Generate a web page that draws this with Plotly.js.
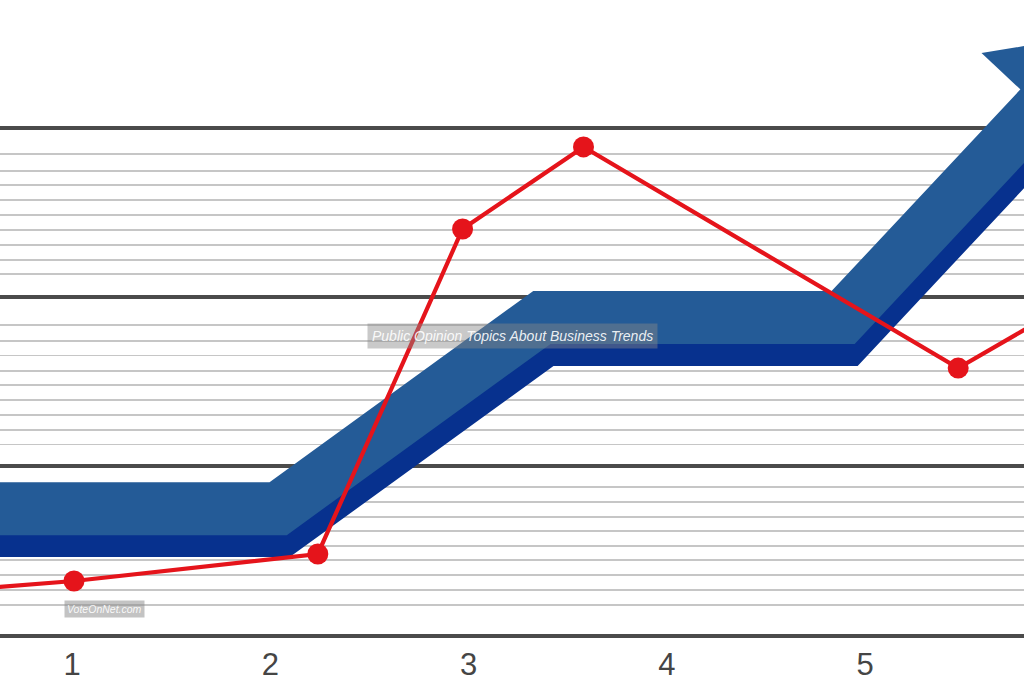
<!DOCTYPE html>
<html>
<head>
<meta charset="utf-8">
<script src="https://cdn.plot.ly/plotly-3.0.1.min.js"></script>
<style>
  html, body { margin: 0; padding: 0; background: #ffffff; }
  #chart { width: 1024px; height: 683px; }
</style>
</head>
<body>
<div id="chart"></div>
<script>
// ---- data ----
const xTickVals = [1, 2, 3, 4, 5];
const xTickText = ['1', '2', '3', '4', '5'];

// red line series (first and last points lie just outside the visible area)
const redX = [0.5, 1.01, 2.24, 2.97, 3.58, 5.47, 6.0];
const redY = [2.75, 3.22, 4.82, 24.03, 28.88, 15.81, 19.4];

// blue trend arrow (centre line; last point = arrow head)
const trendX = [0.0, 2.04, 3.37, 4.89, 6.0];
const trendY = [7.5, 7.5, 18.8, 18.8, 32.7];

// grid levels
const majorGrid = [0, 10, 20, 30];
const minorGrid = [
  1.80, 2.69, 3.58, 4.46, 5.29, 6.18, 7.00, 7.89, 8.78,
  11.30, 12.13, 13.02, 13.91, 14.79, 15.62, 16.56, 17.40, 18.34,
  21.36, 22.19, 23.07, 23.96, 24.85, 25.73, 26.62, 27.45, 28.45
];

// ---- styling ----
const LIGHT_BLUE = '#245b97';
const DARK_BLUE = '#07318e';
const RED = '#e5141b';
const BAND_W = 53;
const SHADOW_DX = 0.015, SHADOW_DY = -1.3;

const n = trendX.length;
const headSizes = trendX.map((v, i) => i === n - 1 ? 138 : 0);
const headAngles = trendX.map((v, i) => i === n - 1 ? 43.1 : 0);

const traces = [
  {
    x: trendX.map(v => v + SHADOW_DX),
    y: trendY.map(v => v + SHADOW_DY),
    mode: 'lines',
    line: { color: DARK_BLUE, width: BAND_W },
    hoverinfo: 'skip', showlegend: false
  },
  {
    x: trendX, y: trendY,
    mode: 'lines+markers',
    line: { color: LIGHT_BLUE, width: BAND_W },
    marker: { symbol: 'triangle-up', size: headSizes, angle: headAngles,
              color: LIGHT_BLUE, opacity: 1, line: { width: 0 } },
    hoverinfo: 'skip', showlegend: false
  },
  {
    x: redX, y: redY,
    mode: 'lines+markers',
    line: { color: RED, width: 4.2 },
    marker: { color: RED, size: 21, opacity: 1, line: { width: 0 } },
    showlegend: false
  }
];

const layout = {
  width: 1024, height: 683,
  margin: { l: 0, r: 0, t: 0, b: 40, pad: 0 },
  paper_bgcolor: '#ffffff', plot_bgcolor: '#ffffff',
  showlegend: false,
  xaxis: {
    range: [0.6368, 5.802],
    tickmode: 'array', tickvals: xTickVals, ticktext: xTickText,
    showgrid: false, zeroline: false, showline: false, ticks: '',
    ticklabelstandoff: 0,
    tickfont: { family: 'Liberation Sans, Arial, sans-serif', size: 31, color: '#454545' },
    fixedrange: true
  },
  yaxis: {
    range: [-0.443, 37.566],
    tickmode: 'array', tickvals: majorGrid,
    showticklabels: false, ticks: '', zeroline: false, showline: false,
    showgrid: true, gridcolor: '#4b4b4b', gridwidth: 4,
    minor: { tickmode: 'array', tickvals: minorGrid, showgrid: true,
             gridcolor: '#c6c6c6', gridwidth: 1.6, ticks: '' },
    fixedrange: true
  },
  annotations: [
    {
      xref: 'paper', yref: 'paper', x: 0.5, y: 0.4774,
      xanchor: 'center', yanchor: 'middle',
      text: 'Public Opinion Topics About Business Trends',
      showarrow: false, bgcolor: 'rgba(135,135,135,0.45)', borderpad: 4,
      font: { family: 'Liberation Sans, Arial, sans-serif', size: 14, style: 'italic',
              color: 'rgba(255,255,255,0.9)' }
    },
    {
      xref: 'paper', yref: 'paper', x: 0.1016, y: 0.0529,
      xanchor: 'center', yanchor: 'middle',
      text: 'VoteOnNet.com',
      showarrow: false, bgcolor: 'rgba(135,135,135,0.5)', borderpad: 2,
      font: { family: 'Liberation Sans, Arial, sans-serif', size: 10.5, style: 'italic',
              color: 'rgba(255,255,255,0.9)' }
    }
  ]
};

Plotly.newPlot('chart', traces, layout, { displayModeBar: false, staticPlot: true });
</script>
</body>
</html>
